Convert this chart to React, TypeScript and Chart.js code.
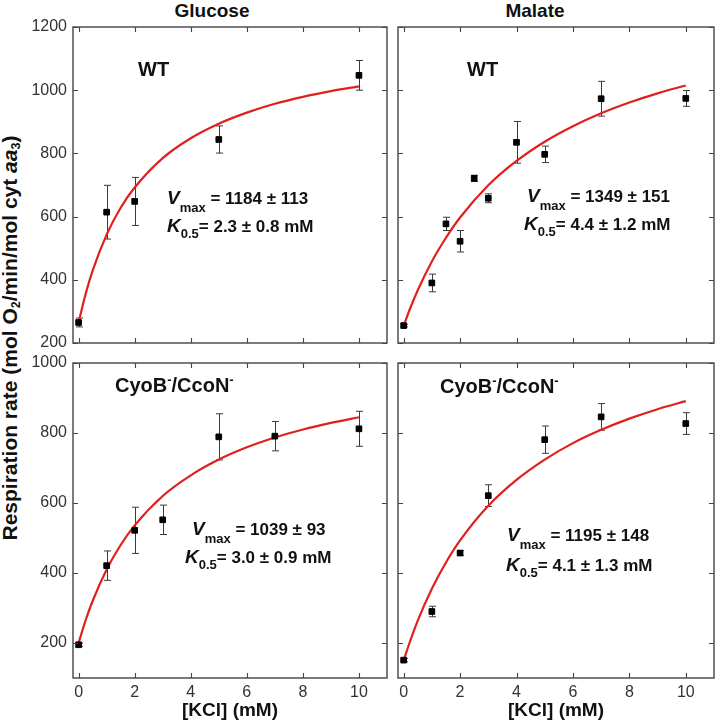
import React, { useEffect, useRef } from 'react';
import { Chart, registerables } from 'chart.js';

Chart.register(...registerables);

const FONT = "'Liberation Sans', Arial, Helvetica, sans-serif";
const RED = '#e0201c';
const INK = '#111';

// ---- tick labels ----
const xTicks = [0, 2, 4, 6, 8, 10];
const yTicksTop = [200, 400, 600, 800, 1000, 1200];
const yTicksBottom = [200, 400, 600, 800, 1000];

// ---- fitted curve sample positions (mM) ----
const fitX = [0, 0.25, 0.5, 1, 1.5, 2, 3, 4, 5, 6, 7, 8, 9, 10];

// ---- Glucose, WT ----
const glcWtX = [0, 1, 2, 5, 10];
const glcWtY = [265, 614, 648, 844, 1047];
const glcWtErr = [14, 85, 76, 43, 47];
const glcWtFit = [265, 355, 429, 543, 628, 692, 785, 848, 894, 929, 957, 979, 997, 1012];

// ---- Malate, WT ----
const malWtX = [0, 1, 1.5, 2, 2.5, 3, 4, 5, 7, 10];
const malWtY = [255, 390, 577, 522, 721, 658, 835, 797, 973, 974];
const malWtErr = [4, 28, 21, 34, 10, 14, 66, 26, 55, 25];
const malWtFit = [255, 314, 367, 458, 533, 597, 699, 776, 837, 886, 927, 961, 990, 1015];

// ---- Glucose, CyoB-/CcoN- ----
const glcMutX = [0, 1, 2, 3, 5, 7, 10];
const glcMutY = [195, 421, 522, 552, 789, 791, 812];
const glcMutErr = [5, 42, 66, 42, 66, 42, 50];
const glcMutFit = [200, 265, 320, 410, 480, 536, 620, 679, 724, 759, 787, 810, 829, 845];

// ---- Malate, CyoB-/CcoN- ----
const malMutX = [0, 1, 2, 3, 5, 7, 10];
const malMutY = [151, 290, 457, 621, 781, 846, 827];
const malMutErr = [5, 15, 7, 31, 39, 38, 31];
const malMutFit = [150, 210, 264, 355, 430, 493, 592, 666, 724, 771, 809, 841, 868, 891];

type Seg = { t: string; f: string; dy?: number };
type Note = { x: number; y: number; segs: Seg[] };

const B20 = `bold 20px ${FONT}`;
const B17 = `bold 17px ${FONT}`;
const IB19 = `italic bold 19px ${FONT}`;
const S13 = `bold 13px ${FONT}`;

const strainNote = (x: number, y: number, wt: boolean): Note =>
  wt
    ? { x, y, segs: [{ t: 'WT', f: B20 }] }
    : {
        x,
        y,
        segs: [
          { t: 'CyoB', f: B20 },
          { t: '-', f: S13, dy: -8 },
          { t: '/CcoN', f: B20 },
          { t: '-', f: S13, dy: -8 },
        ],
      };
const vNote = (x: number, y: number, txt: string): Note => ({
  x,
  y,
  segs: [
    { t: 'V', f: IB19 },
    { t: 'max', f: S13, dy: 8 },
    { t: ' = ' + txt, f: B17 },
  ],
});
const kNote = (x: number, y: number, txt: string): Note => ({
  x,
  y,
  segs: [
    { t: 'K', f: IB19 },
    { t: '0.5', f: S13, dy: 6 },
    { t: '= ' + txt, f: B17 },
  ],
});

type PanelProps = {
  left: number;
  top: number;
  width: number;
  height: number;
  yAxisW: number;
  xAxisH: number;
  padTop: number;
  padRight: number;
  yMin: number;
  yMax: number;
  yTicks: number[];
  showX: boolean;
  showY: boolean;
  px: number[];
  py: number[];
  pe: number[];
  fy: number[];
  notes: Note[];
};

function Panel(p: PanelProps) {
  const ref = useRef<HTMLCanvasElement | null>(null);
  useEffect(() => {
    if (!ref.current) return;
    const errPlugin = {
      id: 'errbars',
      beforeDatasetsDraw(chart: any) {
        const ctx = chart.ctx;
        const xs = chart.scales.x;
        const ys = chart.scales.y;
        ctx.save();
        ctx.strokeStyle = '#3a3a3a';
        ctx.lineWidth = 1;
        p.px.forEach((xv, i) => {
          const X = Math.round(xs.getPixelForValue(xv)) + 0.5;
          const y1 = ys.getPixelForValue(p.py[i] + p.pe[i]);
          const y2 = ys.getPixelForValue(p.py[i] - p.pe[i]);
          ctx.beginPath();
          ctx.moveTo(X, y1);
          ctx.lineTo(X, y2);
          ctx.moveTo(X - 3.5, y1);
          ctx.lineTo(X + 3.5, y1);
          ctx.moveTo(X - 3.5, y2);
          ctx.lineTo(X + 3.5, y2);
          ctx.stroke();
        });
        ctx.restore();
      },
    };
    const framePlugin = {
      id: 'frame',
      afterDatasetsDraw(chart: any) {
        const ctx = chart.ctx;
        const a = chart.chartArea;
        const xs = chart.scales.x;
        const ys = chart.scales.y;
        ctx.save();
        ctx.strokeStyle = '#444';
        ctx.lineWidth = 1.4;
        ctx.strokeRect(a.left, a.top, a.right - a.left, a.bottom - a.top);
        ctx.lineWidth = 1.1;
        ctx.beginPath();
        const L = 5;
        xTicks.forEach((v) => {
          const X = Math.round(xs.getPixelForValue(v)) + 0.5;
          ctx.moveTo(X, a.bottom);
          ctx.lineTo(X, a.bottom - L);
          ctx.moveTo(X, a.top);
          ctx.lineTo(X, a.top + L);
        });
        p.yTicks.forEach((v) => {
          const Y = Math.round(ys.getPixelForValue(v)) + 0.5;
          ctx.moveTo(a.left, Y);
          ctx.lineTo(a.left + L, Y);
          ctx.moveTo(a.right, Y);
          ctx.lineTo(a.right - L, Y);
        });
        ctx.stroke();
        ctx.restore();
      },
    };
    const notePlugin = {
      id: 'notes',
      afterDraw(chart: any) {
        const ctx = chart.ctx;
        ctx.save();
        ctx.fillStyle = INK;
        ctx.textBaseline = 'alphabetic';
        ctx.textAlign = 'left';
        p.notes.forEach((n) => {
          let x = n.x - p.left;
          const y = n.y - p.top;
          n.segs.forEach((s) => {
            ctx.font = s.f;
            ctx.fillText(s.t, x, y + (s.dy || 0));
            x += ctx.measureText(s.t).width;
          });
        });
        ctx.restore();
      },
    };
    const chart = new Chart(ref.current, {
      type: 'line',
      data: {
        datasets: [
          {
            label: 'fit',
            data: fitX.map((x, i) => ({ x, y: p.fy[i] })),
            borderColor: RED,
            borderWidth: 2.2,
            pointRadius: 0,
            cubicInterpolationMode: 'monotone',
            fill: false,
            order: 2,
          },
          {
            label: 'data',
            data: p.px.map((x, i) => ({ x, y: p.py[i] })),
            showLine: false,
            pointStyle: 'rect',
            pointRadius: 4,
            pointBackgroundColor: '#000',
            pointBorderColor: '#000',
            pointBorderWidth: 1,
            order: 1,
          },
        ],
      },
      options: {
        animation: false,
        responsive: false,
        maintainAspectRatio: false,
        events: [],
        layout: { padding: { top: p.padTop, right: p.padRight, left: 0, bottom: 0 } },
        plugins: { legend: { display: false }, tooltip: { enabled: false } },
        scales: {
          x: {
            type: 'linear',
            min: -0.2,
            max: 11,
            grid: { display: false, drawTicks: false },
            border: { display: false },
            ticks: {
              display: p.showX,
              padding: 5,
              color: '#333',
              includeBounds: false,
              font: { family: FONT, size: 16 },
              callback: (v: any) => String(v),
            },
            afterBuildTicks: (s: any) => {
              s.ticks = xTicks.map((v) => ({ value: v }));
            },
            afterFit: (s: any) => {
              s.height = p.xAxisH;
            },
            title: {
              display: p.showX,
              text: '[KCl] (mM)',
              color: INK,
              font: { family: FONT, size: 19, weight: 'bold' },
              padding: { top: 0, bottom: 4 },
            },
          },
          y: {
            type: 'linear',
            min: p.yMin,
            max: p.yMax,
            grid: { display: false, drawTicks: false },
            border: { display: false },
            ticks: {
              display: p.showY,
              padding: 6,
              color: '#333',
              includeBounds: false,
              font: { family: FONT, size: 16 },
              callback: (v: any) => String(v),
            },
            afterBuildTicks: (s: any) => {
              s.ticks = p.yTicks.map((v) => ({ value: v }));
            },
            afterFit: (s: any) => {
              s.width = p.yAxisW;
            },
          },
        },
      } as any,
      plugins: [errPlugin, framePlugin, notePlugin],
    });
    return () => chart.destroy();
  }, []);
  return (
    <canvas
      ref={ref}
      width={p.width}
      height={p.height}
      style={{ position: 'absolute', left: p.left, top: p.top, width: p.width, height: p.height, display: 'block' }}
    />
  );
}

export default function App() {
  const sub: React.CSSProperties = { fontSize: '0.6em', position: 'relative', top: '0.2em', verticalAlign: 'baseline' };
  return (
    <div style={{ position: 'absolute', left: 0, top: 0, width: 720, height: 726, background: '#fff', overflow: 'hidden' }}>
      <div
        style={{
          position: 'absolute',
          left: 112,
          top: 0,
          width: 200,
          height: 20,
          lineHeight: '20px',
          textAlign: 'center',
          font: `bold 19px ${FONT}`,
          color: INK,
        }}
      >
        Glucose
      </div>
      <div
        style={{
          position: 'absolute',
          left: 435,
          top: 0,
          width: 200,
          height: 20,
          lineHeight: '20px',
          textAlign: 'center',
          font: `bold 19px ${FONT}`,
          color: INK,
        }}
      >
        Malate
      </div>
      <div
        style={{
          position: 'absolute',
          left: 11 - 260,
          top: 338 - 13,
          width: 520,
          height: 26,
          lineHeight: '26px',
          textAlign: 'center',
          whiteSpace: 'nowrap',
          transform: 'rotate(-90deg)',
          transformOrigin: 'center center',
          font: `bold 21px ${FONT}`,
          color: INK,
        }}
      >
        Respiration rate (mol O<span style={sub}>2</span>/min/mol cyt <i>aa</i>
        <span style={sub}>3</span>)
      </div>
      <Panel
        left={0}
        top={0}
        width={392}
        height={363}
        yAxisW={73}
        xAxisH={20}
        padTop={27}
        padRight={5}
        yMin={200}
        yMax={1200}
        yTicks={yTicksTop}
        showX={false}
        showY={true}
        px={glcWtX}
        py={glcWtY}
        pe={glcWtErr}
        fy={glcWtFit}
        notes={[strainNote(138, 76, true), vNote(167, 204, '1184 ± 113'), kNote(167, 232, '2.3 ± 0.8 mM')]}
      />
      <Panel
        left={392}
        top={0}
        width={328}
        height={363}
        yAxisW={6}
        xAxisH={20}
        padTop={27}
        padRight={6}
        yMin={200}
        yMax={1200}
        yTicks={yTicksTop}
        showX={false}
        showY={false}
        px={malWtX}
        py={malWtY}
        pe={malWtErr}
        fy={malWtFit}
        notes={[strainNote(467, 76, true), vNote(527, 202, '1349 ± 151'), kNote(524, 230, '4.4 ± 1.2 mM')]}
      />
      <Panel
        left={0}
        top={340}
        width={392}
        height={386}
        yAxisW={73}
        xAxisH={48}
        padTop={23}
        padRight={5}
        yMin={100}
        yMax={1000}
        yTicks={yTicksBottom}
        showX={true}
        showY={true}
        px={glcMutX}
        py={glcMutY}
        pe={glcMutErr}
        fy={glcMutFit}
        notes={[strainNote(115, 392, false), vNote(192, 535, '1039 ± 93'), kNote(185, 563, '3.0 ± 0.9 mM')]}
      />
      <Panel
        left={392}
        top={340}
        width={328}
        height={386}
        yAxisW={6}
        xAxisH={48}
        padTop={23}
        padRight={6}
        yMin={100}
        yMax={1000}
        yTicks={yTicksBottom}
        showX={true}
        showY={false}
        px={malMutX}
        py={malMutY}
        pe={malMutErr}
        fy={malMutFit}
        notes={[strainNote(440, 393, false), vNote(507, 541, '1195 ± 148'), kNote(506, 571, '4.1 ± 1.3 mM')]}
      />
    </div>
  );
}
